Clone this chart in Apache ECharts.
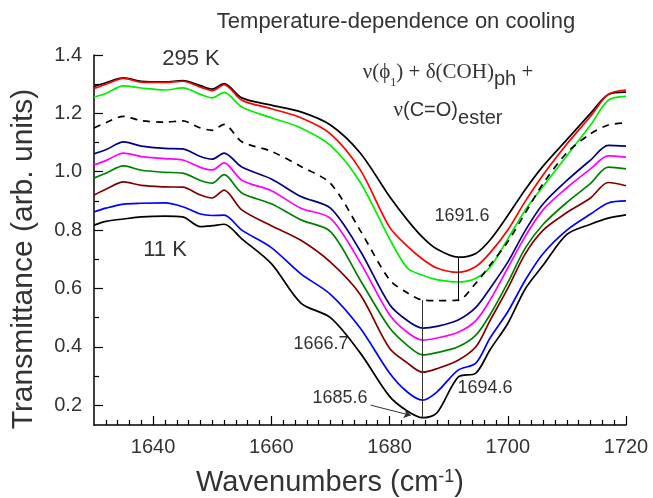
<!DOCTYPE html>
<html>
<head>
<meta charset="utf-8">
<script src="https://cdn.jsdelivr.net/npm/echarts@6/dist/echarts.min.js"></script>
<style>
  html, body { margin: 0; padding: 0; background: #fff; }
  #main { width: 653px; height: 498px; }
</style>
</head>
<body>
<div id="main"></div>
<script>
// wavenumber grid (cm-1) the curves were read at
var wavenumbers = [1630, 1632, 1635, 1638, 1642, 1645, 1648, 1650, 1652, 1655, 1660, 1665, 1670, 1675,
    1680, 1683, 1685.6, 1688, 1691.6, 1694.6, 1697, 1700, 1703, 1706, 1710, 1714, 1717, 1720];

// transmittance, from 295 K (top) down to 11 K (bottom)
var t295 = [1.292, 1.305, 1.322, 1.31, 1.308, 1.312, 1.295, 1.283, 1.302, 1.253, 1.228, 1.205, 1.16, 1.065,
    0.915, 0.835, 0.775, 0.735, 0.707, 0.72, 0.766, 0.85, 0.94, 1.02, 1.11, 1.2, 1.265, 1.273];
var tRed = [1.285, 1.3, 1.32, 1.307, 1.306, 1.31, 1.29, 1.278, 1.298, 1.245, 1.216, 1.185, 1.13, 1.008,
    0.81, 0.745, 0.7, 0.67, 0.655, 0.675, 0.722, 0.8, 0.9, 0.99, 1.095, 1.19, 1.265, 1.28];
var tGreen = [1.256, 1.268, 1.294, 1.287, 1.28, 1.287, 1.265, 1.253, 1.272, 1.222, 1.185, 1.15, 1.09, 0.965,
    0.77, 0.67, 0.645, 0.63, 0.622, 0.635, 0.673, 0.77, 0.87, 0.95, 1.055, 1.16, 1.245, 1.258];
var tDash = [1.15, 1.168, 1.19, 1.175, 1.17, 1.174, 1.15, 1.142, 1.162, 1.103, 1.07, 1.018, 0.96, 0.8,
    0.63, 0.585, 0.56, 0.558, 0.56, 0.618, 0.68, 0.76, 0.86, 0.96, 1.065, 1.13, 1.16, 1.167];
var tNavy = [1.061, 1.075, 1.102, 1.088, 1.08, 1.078, 1.052, 1.043, 1.064, 1.016, 0.975, 0.915, 0.875, 0.73,
    0.545, 0.49, 0.464, 0.47, 0.492, 0.535, 0.6, 0.69, 0.8, 0.89, 0.97, 1.04, 1.09, 1.088];
var tMagenta = [1.023, 1.038, 1.064, 1.052, 1.045, 1.04, 1.015, 1.006, 1.03, 0.971, 0.935, 0.875, 0.84, 0.69,
    0.51, 0.45, 0.423, 0.43, 0.45, 0.49, 0.56, 0.67, 0.78, 0.87, 0.945, 1.01, 1.054, 1.05];
var tDkGreen = [0.978, 0.995, 1.02, 1.005, 0.998, 0.995, 0.97, 0.961, 0.99, 0.927, 0.89, 0.835, 0.795, 0.63,
    0.465, 0.405, 0.372, 0.38, 0.4, 0.44, 0.51, 0.62, 0.74, 0.82, 0.895, 0.96, 1.016, 1.01];
var tMaroon = [0.92, 0.94, 0.965, 0.953, 0.948, 0.947, 0.92, 0.91, 0.937, 0.869, 0.815, 0.765, 0.69, 0.58,
    0.395, 0.345, 0.313, 0.325, 0.354, 0.4, 0.49, 0.6, 0.72, 0.8, 0.86, 0.91, 0.963, 0.952];
var tBlue = [0.862, 0.875, 0.889, 0.892, 0.893, 0.88, 0.855, 0.85, 0.851, 0.8, 0.74, 0.65, 0.58, 0.465,
    0.31, 0.245, 0.217, 0.245, 0.32, 0.344, 0.43, 0.52, 0.63, 0.72, 0.8, 0.855, 0.893, 0.9];
var t11 = [0.817, 0.83, 0.838, 0.845, 0.848, 0.845, 0.812, 0.815, 0.82, 0.77, 0.685, 0.55, 0.5, 0.38,
    0.23, 0.18, 0.157, 0.173, 0.296, 0.31, 0.39, 0.48, 0.6, 0.68, 0.785, 0.82, 0.841, 0.852];

// axis ticks
var xMajor = [1640, 1660, 1680, 1700, 1720];
var yMajor = [0.2, 0.4, 0.6, 0.8, 1.0, 1.2, 1.4];
var yMinor = [0.3, 0.5, 0.7, 0.9, 1.1, 1.3];
var xMinor = [];
for (var w = 1632; w < 1720; w += 2) {
    if (w % 20 != 0) xMinor.push(w);
}

function pairs(vals) {
    return wavenumbers.map(function (x, i) { return [x, vals[i]]; });
}

function curve(name, vals, color, dashed) {
    return {
        name: name,
        type: 'line',
        smooth: 0.3,
        showSymbol: false,
        silent: true,
        z: 3,
        lineStyle: {color: color, width: 1.7, type: dashed ? [7, 6] : 'solid'},
        data: pairs(vals)
    };
}

var textColor = '#333';
var sans = 'Liberation Sans, Arial, sans-serif';
var serif = 'Liberation Serif, Times New Roman, serif';

var series = [
    curve('295 K', t295, '#000'),
    curve('red', tRed, '#ff0000'),
    curve('green', tGreen, '#00ee00'),
    curve('dashed', tDash, '#000', true),
    curve('navy', tNavy, '#000080'),
    curve('magenta', tMagenta, '#ff00ff'),
    curve('dkgreen', tDkGreen, '#008000'),
    curve('maroon', tMaroon, '#800000'),
    curve('blue', tBlue, '#0000ff'),
    curve('11 K', t11, '#000')
];

// peak markers
series[0].markLine = {
    silent: true,
    symbol: 'none',
    label: {show: false},
    lineStyle: {color: '#000', width: 1, type: 'solid'},
    data: [[{coord: [1691.6, 0.707]}, {coord: [1691.6, 0.556]}]]
};
series[9].markLine = {
    silent: true,
    symbol: ['none', 'arrow'],
    symbolSize: 7,
    label: {show: false},
    lineStyle: {color: '#333', width: 1, type: 'solid'},
    data: [
        [{coord: [1685.6, 0.56], symbol: 'none'}, {coord: [1685.6, 0.157], symbol: 'none'}],
        [{coord: [1676.8, 0.2]}, {coord: [1683.6, 0.165]}]
    ]
};

var myChart = echarts.init(document.getElementById('main'));
myChart.setOption({
    backgroundColor: '#fff',
    animation: false,
    grid: {left: 94, right: 27, top: 55, bottom: 73},
    xAxis: [{
        type: 'value',
        position: 'bottom',
        min: 1630,
        max: 1720,
        splitLine: {show: false},
        axisLine: {lineStyle: {color: '#000', width: 1.5}},
        axisTick: {inside: true, length: 9, customValues: xMajor, lineStyle: {color: '#000', width: 1.2}},
        axisLabel: {customValues: xMajor, color: textColor, fontSize: 20, fontFamily: sans, margin: 12,
            formatter: function (v) { return String(v); }}
    }, {
        type: 'value',
        position: 'bottom',
        min: 1630,
        max: 1720,
        splitLine: {show: false},
        axisLine: {show: false},
        axisTick: {inside: true, length: 5, customValues: xMinor, lineStyle: {color: '#000', width: 1.2}},
        axisLabel: {show: false}
    }],
    yAxis: [{
        type: 'value',
        min: 0.132,
        max: 1.4,
        splitLine: {show: false},
        axisLine: {show: true, lineStyle: {color: '#000', width: 1.5}},
        axisTick: {show: true, inside: true, length: 9, customValues: yMajor, lineStyle: {color: '#000', width: 1.2}},
        axisLabel: {
            customValues: yMajor, color: textColor, fontSize: 20, fontFamily: sans, margin: 12,
            formatter: function (v) { return v.toFixed(1); }
        }
    }, {
        type: 'value',
        min: 0.132,
        max: 1.4,
        position: 'left',
        splitLine: {show: false},
        axisLine: {show: false},
        axisTick: {show: true, inside: true, length: 5, customValues: yMinor, lineStyle: {color: '#000', width: 1.2}},
        axisLabel: {show: false}
    }],
    graphic: [
        {type: 'text', x: 396, y: 22, style: {text: 'Temperature-dependence on cooling', fill: textColor,
            font: '22px ' + sans, align: 'center', verticalAlign: 'middle'}},
        {type: 'text', x: 191, y: 59, style: {text: '295 K', fill: textColor,
            font: '22px ' + sans, align: 'center', verticalAlign: 'middle'}},
        {type: 'text', x: 165, y: 250, style: {text: '11 K', fill: textColor,
            font: '22px ' + sans, align: 'center', verticalAlign: 'middle'}},
        {type: 'text', x: 448, y: 72, style: {
            text: '{s|ν(ϕ}{i|1}{s|) + δ(COH)}{sub|ph}{s| +}',
            align: 'center', verticalAlign: 'middle',
            rich: {
                s: {font: '21px ' + serif, fill: textColor},
                i: {font: '12px ' + serif, fill: textColor, verticalAlign: 'bottom', lineHeight: 24},
                sub: {font: '20px ' + sans, fill: textColor, verticalAlign: 'bottom', lineHeight: 34}
            }
        }},
        {type: 'text', x: 448, y: 110, style: {
            text: '{s|ν}{a|(C=O)}{sub|ester}',
            align: 'center', verticalAlign: 'middle',
            rich: {
                s: {font: '21px ' + serif, fill: textColor},
                a: {font: '20px ' + sans, fill: textColor},
                sub: {font: '20px ' + sans, fill: textColor, verticalAlign: 'bottom', lineHeight: 36}
            }
        }},
        {type: 'text', x: 462, y: 216, style: {text: '1691.6', fill: textColor,
            font: '18px ' + sans, align: 'center', verticalAlign: 'middle'}},
        {type: 'text', x: 321, y: 344, style: {text: '1666.7', fill: textColor,
            font: '18px ' + sans, align: 'center', verticalAlign: 'middle'}},
        {type: 'text', x: 340, y: 398, style: {text: '1685.6', fill: textColor,
            font: '18px ' + sans, align: 'center', verticalAlign: 'middle'}},
        {type: 'text', x: 485, y: 388, style: {text: '1694.6', fill: textColor,
            font: '18px ' + sans, align: 'center', verticalAlign: 'middle'}},
        // axis names
        {type: 'text', x: 24, y: 259, rotation: Math.PI / 2, style: {text: 'Transmittance (arb. units)',
            fill: textColor, font: '30px ' + sans, align: 'center', verticalAlign: 'middle'}},
        {type: 'text', x: 330, y: 483, style: {
            text: '{n|Wavenumbers (cm}{sup|-1}{n|)}',
            align: 'center', verticalAlign: 'middle',
            rich: {
                n: {font: '29px ' + sans, fill: textColor},
                sup: {font: '18px ' + sans, fill: textColor, verticalAlign: 'top', lineHeight: 14}
            }
        }}
    ],
    series: series
});
</script>
</body>
</html>
